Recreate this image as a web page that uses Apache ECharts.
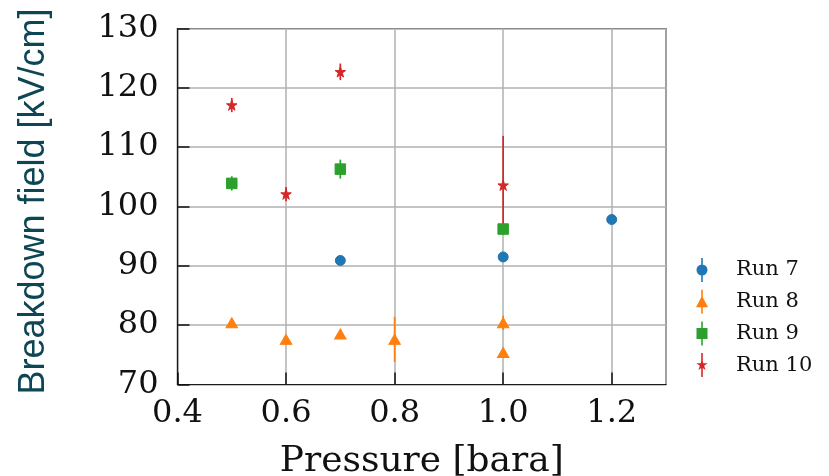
<!DOCTYPE html>
<html>
<head>
<meta charset="utf-8">
<script src="https://cdn.jsdelivr.net/npm/echarts@6/dist/echarts.min.js"></script>
<style>
  html, body { margin: 0; padding: 0; background: #fff; }
  #chart { width: 829px; height: 476px; }
</style>
</head>
<body>
<div id="chart"></div>
<script>
// Breakdown field vs. pressure, four runs with vertical error bars
const run7Pressure = [0.7, 1.0, 1.2];
const run7Field    = [90.9, 91.5, 97.8];
const run7Err      = [0.3, 0.3, 0.3];

const run8Pressure = [0.5, 0.6, 0.7, 0.8, 1.0, 1.0];
const run8Field    = [80.4, 77.6, 78.5, 77.6, 80.4, 75.4];
const run8Err      = [0.5, 0.5, 0.5, 3.8, 1.2, 0.5];

const run9Pressure = [0.5, 0.7, 1.0];
const run9Field    = [103.9, 106.3, 96.2];
const run9Err      = [1.2, 1.6, 0.5];

const run10Pressure = [0.5, 0.6, 0.7, 1.0];
const run10Field    = [117.1, 102.1, 122.7, 103.6];
const run10Err      = [1.2, 1.2, 1.4, 8.3];

const xTicks = [0.4, 0.6, 0.8, 1.0, 1.2];
const yTicks = [70, 80, 90, 100, 110, 120, 130];

const serif = '"DejaVu Serif", serif';

const STAR = 'path://M0,-100 L22.45,-30.9 L95.1,-30.9 L36.3,11.8 L58.8,80.9 L0,38.2 L-58.8,80.9 L-36.3,11.8 L-95.1,-30.9 L-22.45,-30.9 Z';

// legend icons: marker with a vertical error bar through it
const BAR = 'M-0.8,-12 L0.8,-12 L0.8,12 L-0.8,12 Z ';
const ICON_CIRCLE = 'path://' + BAR + 'M0,-5.5 A5.5,5.5 0 1,1 0,5.5 A5.5,5.5 0 1,1 0,-5.5 Z';
const ICON_TRI = 'path://' + BAR + 'M0,-6 L6,5.5 L-6,5.5 Z';
const ICON_SQUARE = 'path://' + BAR + 'M-5.5,-5.5 L5.5,-5.5 L5.5,5.5 L-5.5,5.5 Z';
const ICON_STAR = 'path://' + BAR + 'M0,-6 L1.35,-1.85 L5.7,-1.85 L2.18,0.71 L3.53,4.85 L0,2.29 L-3.53,4.85 L-2.18,0.71 L-5.7,-1.85 L-1.35,-1.85 Z';

const runs = [
  { name: 'Run 7',  x: run7Pressure,  y: run7Field,  e: run7Err,  color: '#1f77b4', symbol: 'circle',   size: 10, icon: ICON_CIRCLE },
  { name: 'Run 8',  x: run8Pressure,  y: run8Field,  e: run8Err,  color: '#ff7f0e', symbol: 'triangle', size: [11.5, 10], icon: ICON_TRI },
  { name: 'Run 9',  x: run9Pressure,  y: run9Field,  e: run9Err,  color: '#2ca02c', symbol: 'rect',     size: 10.5, icon: ICON_SQUARE },
  { name: 'Run 10', x: run10Pressure, y: run10Field, e: run10Err, color: '#d62728', symbol: STAR,       size: 10.5, icon: ICON_STAR }
];

function points(r) {
  return r.x.map((x, i) => [x, r.y[i], r.e[i]]);
}

const series = [];
runs.forEach(r => {
  series.push({
    name: r.name,
    type: 'custom',
    z: 2,
    data: points(r),
    renderItem: function (params, api) {
      const x = api.value(0), y = api.value(1), e = api.value(2);
      const p1 = api.coord([x, y - e]);
      const p2 = api.coord([x, y + e]);
      return {
        type: 'line',
        shape: { x1: p1[0], y1: p1[1], x2: p2[0], y2: p2[1] },
        style: { stroke: r.color, lineWidth: 1.7 }
      };
    },
    itemStyle: { color: r.color },
    silent: true
  });
  series.push({
    name: r.name,
    type: 'scatter',
    z: 3,
    data: points(r),
    symbol: r.symbol,
    symbolSize: r.size,
    itemStyle: { color: r.color, opacity: 1, borderColor: r.color, borderWidth: 1 }
  });
});

const chart = echarts.init(document.getElementById('chart'), null, { renderer: 'canvas' });
chart.setOption({
  animation: false,
  backgroundColor: '#fff',
  grid: {
    left: 177.5, right: 163, top: 28.5, bottom: 91.5,
    outerBoundsMode: 'none',
    containLabel: false,
    show: true, borderColor: '#1a1a1a', borderWidth: 1.2, backgroundColor: 'transparent'
  },
  xAxis: {
    type: 'value',
    min: 0.4, max: 1.3, interval: 0.2,
    name: 'Pressure [bara]',
    nameLocation: 'middle',
    nameGap: 59,
    nameTextStyle: { fontFamily: serif, fontSize: 36, color: '#111' },
    axisLine: { show: true, onZero: false, lineStyle: { color: '#1a1a1a', width: 1.2 } },
    axisTick: { show: true, inside: true, length: 12, lineStyle: { color: '#111', width: 1.5 } },
    axisLabel: {
      fontFamily: serif, fontSize: 32, color: '#111', margin: 13,
      showMaxLabel: false,
      formatter: v => xTicks.some(t => Math.abs(t - v) < 1e-9) ? v.toFixed(1) : ''
    },
    splitLine: { show: true, lineStyle: { color: '#b0b0b0', width: 1.5 } }
  },
  yAxis: {
    type: 'value',
    min: 70, max: 130, interval: 10,
    name: 'Breakdown field [kV/cm]',
    nameLocation: 'middle',
    nameGap: 125,
    nameTextStyle: {
      fontFamily: '"Liberation Sans", Arial, sans-serif', fontSize: 36, color: '#0d4654',
      padding: [0, 0, 0, 10]
    },
    axisLine: { show: true, lineStyle: { color: '#1a1a1a', width: 1.2 } },
    axisTick: { show: true, inside: true, length: 12, lineStyle: { color: '#111', width: 1.5 } },
    axisLabel: {
      fontFamily: serif, fontSize: 32, color: '#111', margin: 19,
      formatter: v => yTicks.includes(v) ? String(v) : ''
    },
    splitLine: { show: true, lineStyle: { color: '#b0b0b0', width: 1.5 } }
  },
  legend: {
    orient: 'vertical',
    left: 691,
    top: 253,
    itemWidth: 12,
    itemHeight: 24,
    itemGap: 7.7,
    textStyle: { fontFamily: serif, fontSize: 21, color: '#111', padding: [0, 0, 0, 23] },
    data: runs.map(r => ({ name: r.name, icon: r.icon, itemStyle: { color: r.color } }))
  },
  series: series
});
</script>
</body>
</html>
